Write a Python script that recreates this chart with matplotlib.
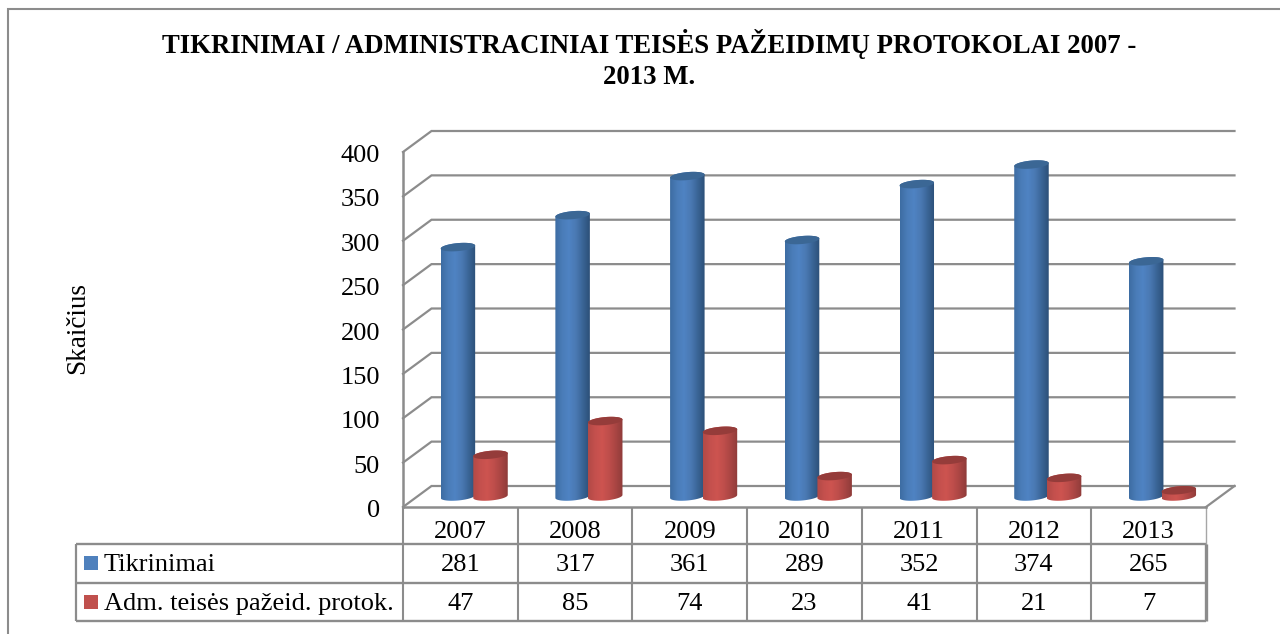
import matplotlib
matplotlib.use('Agg')
import matplotlib.pyplot as plt
import numpy as np
from matplotlib.patches import Polygon
from matplotlib.colors import LinearSegmentedColormap

plt.rcParams['font.family'] = ['Liberation Serif']

years = ['2007', '2008', '2009', '2010', '2011', '2012', '2013']
tikrinimai = [281, 317, 361, 289, 352, 374, 265]
protokolai = [47, 85, 74, 23, 41, 21, 7]
y_ticks = [0, 50, 100, 150, 200, 250, 300, 350, 400]
series_names = ['Tikrinimai', 'Adm. teisės pažeid. protok.']

W, H = 1280, 634
GREY = '#8c8c8c'
FS = 19
fig = plt.figure(figsize=(W / 100, H / 100), dpi=100)

# page overlay, in pixels, for frame and table
page = fig.add_axes([0, 0, 1, 1])
page.set_xlim(0, W)
page.set_ylim(H, 0)
page.axis('off')

# chart frame, runs off the right and bottom of the crop
page.plot([8, 8, W], [H, 9, 9], color=GREY, lw=1.5, solid_joinstyle='miter')

# plot front plane: 403..1206 px wide, 507..152 px high
left, right, y0, y400 = 403, 1206, 507, 152
ax = fig.add_axes([left / W, (H - y0) / H, (right - left) / W, (y0 - y400) / H])
ax.patch.set_alpha(0)
ax.axis('off')

ux = (right - left) / len(years)   # px per category
uy = (y0 - y400) / 400             # px per unit
dx = 28.5 / ux
dy = 21.0 / uy
bar_w = 34.5 / ux
ell_h = 8 / uy
tilt = 3 / uy  # cylinders lean a little, right side higher

# walls
for t in y_ticks:
    ax.plot([0, dx, len(years) + dx], [t, t + dy, t + dy], color=GREY, lw=1.6,
            clip_on=False, zorder=1, solid_joinstyle='miter')
ax.plot([0, 0], [0, 400], color=GREY, lw=1.8, clip_on=False, zorder=2)
ax.plot([0, len(years)], [0, 0], color=GREY, lw=1.8, clip_on=False, zorder=2)
ax.plot([len(years), len(years) + dx], [0, dy], color=GREY, lw=1.6, clip_on=False, zorder=2)

cm_blue = LinearSegmentedColormap.from_list('b', ['#3d6da3', '#4a7cb8', '#4f83c3', '#4a79b3', '#3a6596', '#2c5078'])
cm_red = LinearSegmentedColormap.from_list('r', ['#b24a47', '#c4504d', '#cd5450', '#bf4e4b', '#a94543', '#8f3c3a'])
grad = np.linspace(0, 1, 64).reshape(1, -1)


def ring(xc, yc, th):
    xs = np.cos(th)
    return np.column_stack([xc + bar_w / 2 * xs, yc + ell_h / 2 * np.sin(th) + tilt / 2 * xs])


def cylinder(xc, value, cmap, top_col, z):
    base = dy / 2
    x0, x1 = xc - bar_w / 2, xc + bar_w / 2
    top = base + value
    low = ring(xc, base, np.linspace(np.pi, 2 * np.pi, 40))
    up = ring(xc, top, np.linspace(0, np.pi, 40))
    clip = Polygon(np.vstack([low, up]), transform=ax.transData, fc='none', ec='none')
    ax.add_patch(clip)
    im = ax.imshow(grad, cmap=cmap, extent=[x0, x1, base - ell_h, top + ell_h], aspect='auto',
                   zorder=z, interpolation='bilinear')
    im.set_clip_path(clip)
    ax.add_patch(Polygon(ring(xc, top, np.linspace(0, 2 * np.pi, 80)), fc=top_col, ec='none',
                         zorder=z + 0.01, clip_on=False))


for i in range(len(years)):
    center = i + 0.5 + dx / 2 - 0.4 / ux
    cylinder(center - 16.3 / ux, tikrinimai[i], cm_blue, '#3b6795', 3 + i * 0.1)
    cylinder(center + 16.3 / ux, protokolai[i], cm_red, '#953c3a', 3.05 + i * 0.1)

ax.set_xlim(0, len(years))
ax.set_ylim(0, 400)

# y tick labels
for t in y_ticks:
    ax.annotate(str(t), (0, t), xytext=(-23, -4), textcoords='offset pixels', ha='right',
                va='center', fontsize=FS, color='black', annotation_clip=False)

# table
rows = [507, 544, 583, 621]
tleft = 76
xs = [left + i * ux for i in range(len(years) + 1)]
for y in rows[1:]:
    page.plot([tleft, right], [y, y], color=GREY, lw=1.7, solid_capstyle='butt')
for x in xs[:-1]:
    page.plot([x, x], [rows[0], rows[3]], color=GREY, lw=1.5, solid_capstyle='butt')
page.plot([right, right], [rows[0], rows[1]], color='#a6a6a6', lw=1.0)
page.plot([right, right], [rows[1], rows[3]], color=GREY, lw=2.4, solid_capstyle='butt')
page.plot([tleft, tleft], [rows[1], rows[3]], color=GREY, lw=1.6, solid_capstyle='butt')

for i, yr in enumerate(years):
    xc = left + (i + 0.5) * ux
    page.text(xc, 532, yr, ha='center', va='center', fontsize=FS)
    page.text(xc, 565, str(tikrinimai[i]), ha='center', va='center', fontsize=FS)
    page.text(xc, 604, str(protokolai[i]), ha='center', va='center', fontsize=FS)

page.text(104, 565, series_names[0], ha='left', va='center', fontsize=FS)
page.text(104, 604, series_names[1], ha='left', va='center', fontsize=FS)
page.fill([84, 98, 98, 84], [556, 556, 570, 570], color='#4f81bd', lw=0)
page.fill([84, 98, 98, 84], [595, 595, 609, 609], color='#c0504d', lw=0)

# titles
page.text(649, 44, 'TIKRINIMAI / ADMINISTRACINIAI TEISĖS PAŽEIDIMŲ PROTOKOLAI 2007 -',
          ha='center', va='center', fontsize=19.3, fontweight='bold')
page.text(649, 77, '2013 M.', ha='center', va='center', fontsize=19.3, fontweight='bold')
page.text(78, 328, 'Skaičius', rotation=90, ha='center', va='center', fontsize=19.5)

fig.savefig('out.png', dpi=100)
